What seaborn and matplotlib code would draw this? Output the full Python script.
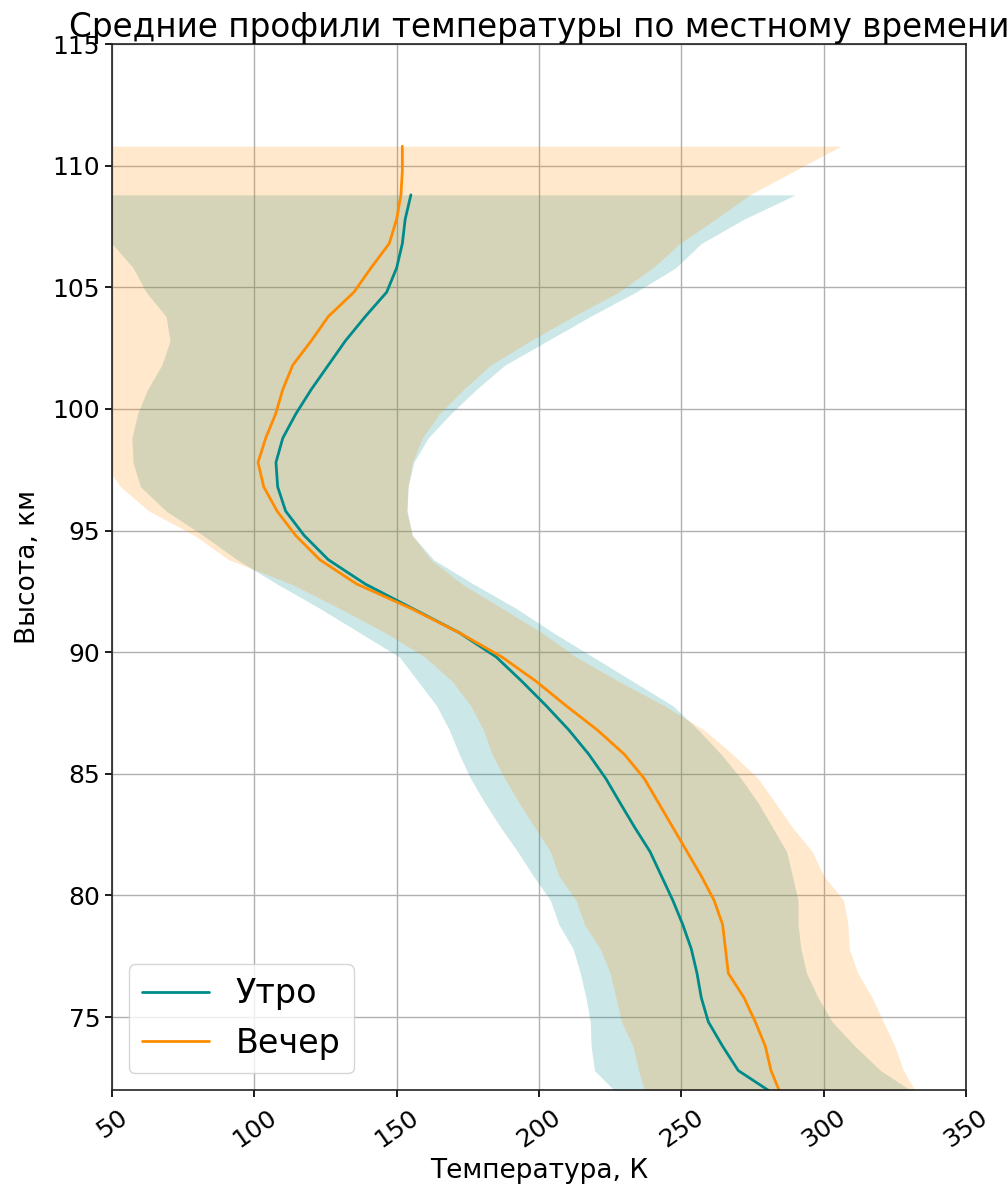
import numpy as np
import pandas as pd
import matplotlib
matplotlib.use("Agg")
import matplotlib.pyplot as plt
import seaborn as sns

# ---- data ----
# Morning ("Утро") profile: altitude grid, mean temperature and band limits
alt_morning = [71.8, 72.8, 73.8, 74.8, 75.8, 76.8, 77.8, 78.8, 79.8, 80.8,
               81.8, 82.8, 83.8, 84.8, 85.8, 86.8, 87.8, 88.8, 89.8, 90.8,
               91.8, 92.8, 93.8, 94.8, 95.8, 96.8, 97.8, 98.8, 99.8, 100.8,
               101.8, 102.8, 103.8, 104.8, 105.8, 106.8, 107.8, 108.8]
t_morning = [283, 270, 264.5, 259.5, 257, 255.5, 253.5, 250.5, 247, 243,
             239, 233.6, 228.5, 223.5, 217.5, 210.5, 202.5, 194, 185, 172,
             155.5, 139, 126, 117.5, 111, 108.2, 107.6, 110, 114.6, 120,
             126, 132, 139, 146.5, 150, 152, 153, 155]
lo_morning = [228, 219.5, 218.3, 218, 216.5, 214.5, 212, 207, 204, 198,
              192.5, 186.5, 181, 176, 172, 168.5, 164, 157.5, 151, 137,
              123, 108, 94, 82, 69, 60, 57.4, 57, 59, 62.5,
              67.5, 70.4, 69, 62, 57.4, 50, 40, 35]
hi_morning = [333, 320, 311, 303, 298, 294, 292, 291, 291, 289,
              287, 282, 277, 271, 264, 256, 247, 233, 219, 205,
              192, 177, 163, 155.5, 153.7, 154, 156, 161, 169, 178,
              188, 203, 218, 234, 248, 257, 272, 290]

# Evening ("Вечер") profile
alt_evening = [71.8, 72.8, 73.8, 74.8, 75.8, 76.8, 77.8, 78.8, 79.8, 80.8,
               81.8, 82.8, 83.8, 84.8, 85.8, 86.8, 87.8, 88.8, 89.8, 90.8,
               91.8, 92.8, 93.8, 94.8, 95.8, 96.8, 97.8, 98.8, 99.8, 100.8,
               101.8, 102.8, 103.8, 104.8, 105.8, 106.8, 107.8, 108.8, 109.8, 110.8]
t_evening = [285, 281.5, 279.5, 276, 272, 266.5, 265.5, 264.5, 261.5, 257,
             252, 247, 242, 237, 230, 220.5, 209.5, 199, 187, 172,
             155, 136, 123, 114.5, 108, 103.3, 101.3, 104, 107.5, 110,
             113.5, 120, 126, 135, 141, 147.4, 150, 151.5, 152, 152]
lo_evening = [237.5, 235, 233, 229, 227, 225, 221.5, 216, 213, 207,
              204, 198.5, 193, 188, 183.5, 180.5, 176, 169.5, 160, 146,
              130, 113, 91, 79, 63, 53, 47, 43, 40, 38,
              36, 35, 36, 38, 40, 38, 35, 32, 30, 30]
hi_evening = [333, 328, 325, 321, 317, 312, 309, 308.5, 307, 300,
              296, 289, 283, 277, 268, 258, 244, 228, 213, 201,
              187, 173, 162, 155.5, 153.5, 154, 155.5, 159, 165, 173.5,
              183, 197, 212, 228, 240, 249.5, 262, 274, 290, 306]

labels = ["Утро", "Вечер"]
colors = ["darkcyan", "darkorange"]

x_ticks = [50, 100, 150, 200, 250, 300, 350]
y_ticks = [75, 80, 85, 90, 95, 100, 105, 110, 115]

title = "Средние профили температуры по местному времени"
xlabel = "Температура, К"
ylabel = "Высота, км"

# ---- plotting ----
sns.set_theme(style="ticks")
plt.rcParams['font.family'] = ['DejaVu Sans']
plt.rcParams.update({
    "text.color": "black",
    "axes.labelcolor": "black",
    "xtick.color": "black",
    "ytick.color": "black",
    "axes.edgecolor": "black",
})

fig = plt.figure(figsize=(10.07, 11.87), dpi=100)
ax = fig.add_axes([0.1112, 0.0817, 0.8481, 0.8812])

profiles = [
    (alt_morning, t_morning, lo_morning, hi_morning),
    (alt_evening, t_evening, lo_evening, hi_evening),
]

for (alt, t, lo, hi), lab, col in zip(profiles, labels, colors):
    ax.fill_betweenx(alt, lo, hi, color=col, alpha=0.2, linewidth=0)

for (alt, t, lo, hi), lab, col in zip(profiles, labels, colors):
    df = pd.DataFrame({"T": t, "H": alt})
    sns.lineplot(data=df, x="T", y="H", orient="y", sort=False,
                 color=col, linewidth=2, label=lab, ax=ax)

ax.set_xlim(50, 350)
ax.set_ylim(72, 115)
ax.set_xticks(x_ticks)
ax.set_yticks(y_ticks)
ax.tick_params(axis="x", labelsize=18, rotation=35, length=5, pad=6)
ax.tick_params(axis="y", labelsize=18, length=5)
ax.grid(True, color="#b0b0b0", linewidth=1)
for s in ax.spines.values():
    s.set_color("#222222")
    s.set_linewidth(1.2)

ax.set_title(title, fontsize=23.5, pad=4)
ax.set_xlabel(xlabel, fontsize=19)
ax.set_ylabel(ylabel, fontsize=19, labelpad=8)

leg = ax.legend(loc="lower left", fontsize=24, frameon=True, fancybox=True)

fig.savefig("out.png", dpi=100)
